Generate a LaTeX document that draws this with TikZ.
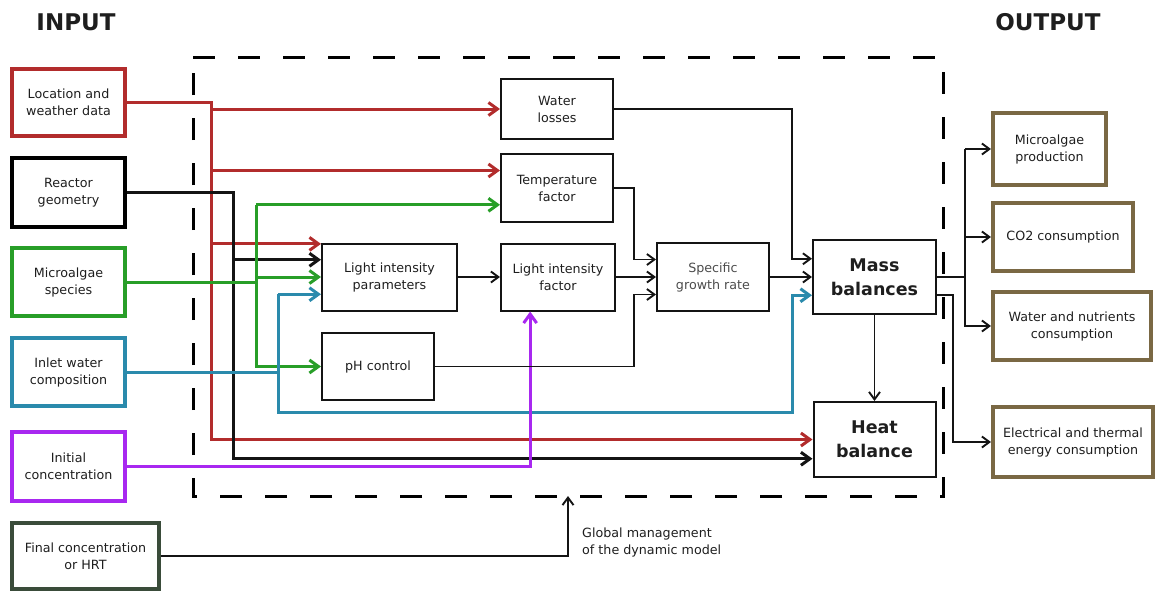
\documentclass[tikz,border=0pt]{standalone}
\usepackage{fontspec}
\setmainfont{DejaVu Sans}
\usetikzlibrary{arrows.meta,calc}
\definecolor{cred}{RGB}{178,44,44}
\definecolor{cgreen}{RGB}{40,158,40}
\definecolor{cblue}{RGB}{42,138,172}
\definecolor{cpurple}{RGB}{168,40,240}
\definecolor{cbrown}{RGB}{122,104,68}
\definecolor{cdkgreen}{RGB}{58,76,58}
\definecolor{ctext}{RGB}{30,30,30}
\definecolor{cline}{RGB}{20,20,20}

\begin{document}
\begin{tikzpicture}[x=1pt,y=-1pt,
  txt/.style={font=\fontsize{12.7}{17}\selectfont, text=ctext, align=center},
  inbox/.style={draw, line width=3.5pt, inner sep=0pt, txt},
  procbox/.style={draw=cline, line width=2pt, inner sep=0pt, txt},
  outbox/.style={draw=cbrown, line width=4pt, inner sep=0pt, txt},
  big/.style={font=\bfseries\fontsize{17.5}{24}\selectfont},
  wire/.style={line width=3pt},
  thinwire/.style={line width=1.9pt, draw=cline},
  ca/.style={-{Straight Barb[length=9pt,width=13pt]}},
  ka/.style={-{Straight Barb[length=7.5pt,width=11pt]}},
  title/.style={font=\bfseries\fontsize{23}{28}\selectfont, text=ctext},
]
\useasboundingbox (0,0) rectangle (1157,590);

% titles
\node[title] (tin) at (76,22) {INPUT};
\node[title] (tout) at (1048,22) {OUTPUT};

% model boundary
\draw[line width=3pt, dash pattern=on 22pt off 23pt]
  (193,57) -- (943,57) -- (943,496) -- (193,496) -- cycle;

% inputs
\node[inbox, draw=cred, minimum width=113pt, minimum height=67pt] (loc) at (68.5,102.5) {Location and\\weather data};
\node[inbox, draw=black, minimum width=113pt, minimum height=69pt] (reac) at (68.5,192.5) {Reactor\\geometry};
\node[inbox, draw=cgreen, minimum width=113pt, minimum height=68pt] (spec) at (68.5,282) {Microalgae\\species};
\node[inbox, draw=cblue, minimum width=113pt, minimum height=68pt] (inlet) at (68.5,372) {Inlet water\\composition};
\node[inbox, draw=cpurple, minimum width=113pt, minimum height=69pt] (init) at (68.5,466.5) {Initial\\concentration};
\node[inbox, draw=cdkgreen, minimum width=147pt, minimum height=66pt] (final) at (85.5,556) {Final concentration\\or HRT};

% process blocks
\node[procbox, minimum width=112pt, minimum height=60pt] (wl) at (557,109) {Water\\losses};
\node[procbox, minimum width=112pt, minimum height=68pt] (tf) at (557,188) {Temperature\\factor};
\node[procbox, minimum width=135pt, minimum height=67pt] (lip) at (389.5,277) {Light intensity\\parameters};
\node[procbox, minimum width=114pt, minimum height=67pt] (lif) at (558,277) {Light intensity\\factor};
\node[procbox, minimum width=112pt, minimum height=68pt, text=black!70] (sgr) at (713,277) {Specific\\growth rate};
\node[procbox, minimum width=112pt, minimum height=67pt] (ph) at (378,366.5) {pH control};
\node[procbox, big, minimum width=123pt, minimum height=74pt] (mb) at (874.5,277) {Mass\\balances};
\node[procbox, big, minimum width=122pt, minimum height=75pt] (hb) at (874.5,439.5) {Heat\\balance};

% outputs
\node[outbox, minimum width=113pt, minimum height=72pt] (mp) at (1049.5,149) {Microalgae\\production};
\node[outbox, minimum width=140pt, minimum height=68pt] (co2) at (1063,237) {CO2 consumption};
\node[outbox, minimum width=158pt, minimum height=68pt] (wn) at (1072,326) {Water and nutrients\\consumption};
\node[outbox, minimum width=160pt, minimum height=70pt] (el) at (1073,442) {Electrical and thermal\\energy consumption};

\node[txt, align=left, anchor=west, inner sep=0pt] (glab) at (582,542.5) {Global management\\of the dynamic model};

% ports on block sides
\coordinate (tf-in1) at ($(tf.north west)!.25!(tf.south west)$);
\coordinate (tf-in2) at ($(tf.north west)!.74!(tf.south west)$);
\coordinate (lip-in1) at ($(lip.north west)!.02!(lip.south west)$);
\coordinate (lip-in2) at ($(lip.north west)!.25!(lip.south west)$);
\coordinate (lip-in3) at ($(lip.north west)!.5!(lip.south west)$);
\coordinate (lip-in4) at ($(lip.north west)!.75!(lip.south west)$);
\coordinate (sgr-in1) at ($(sgr.north west)!.25!(sgr.south west)$);
\coordinate (sgr-in3) at ($(sgr.north west)!.75!(sgr.south west)$);
\coordinate (mb-in1) at ($(mb.north west)!.26!(mb.south west)$);
\coordinate (mb-in3) at ($(mb.north west)!.74!(mb.south west)$);
\coordinate (mb-out2) at ($(mb.north east)!.74!(mb.south east)$);
\coordinate (hb-in2) at ($(hb.north west)!.75!(hb.south west)$);
\coordinate (lif-in) at ($(lif.south west)!.26!(lif.south east)$);

% bus lines
\coordinate (rv) at (211,0);
\coordinate (kv) at (233,0);
\coordinate (gv) at (256,0);
\coordinate (bv) at (278,0);
\coordinate (bb) at (278,412);
\coordinate (bc) at (792,412);
\coordinate (mx) at (792,0);
\coordinate (tx) at (634,0);
\coordinate (ox) at (965,0);
\coordinate (ex) at (953,0);
\coordinate (gm) at (568,496);

% location and weather data
\draw[wire, cred, ca] (loc.east) -- (loc.east -| rv) -- (rv |- hb.west) -- (hb.west);
\draw[wire, cred, ca] (rv |- wl.west) -- (wl.west);
\draw[wire, cred, ca] (rv |- tf-in1) -- (tf-in1);
\draw[wire, cred, ca] (rv |- lip-in1) -- (lip-in1);

% reactor geometry
\draw[wire, cline, ca] (reac.east) -- (reac.east -| kv) -- (kv |- hb-in2) -- (hb-in2);
\draw[wire, cline, ca] (kv |- lip-in2) -- (lip-in2);

% microalgae species
\draw[wire, cgreen] (spec.east) -- (spec.east -| gv);
\draw[wire, cgreen, ca] (gv |- tf-in2) |- (ph.west);
\draw[wire, cgreen, ca] (gv |- tf-in2) -- (tf-in2);
\draw[wire, cgreen, ca] (gv |- lip-in3) -- (lip-in3);

% inlet water composition
\draw[wire, cblue] (inlet.east) -- (inlet.east -| bv);
\draw[wire, cblue, ca] (bv |- lip-in4) -- (lip-in4);
\draw[wire, cblue, ca] (bv |- lip-in4) -- (bb) -- (bc) |- (mb-in3);

% initial concentration
\draw[wire, cpurple, ca] (init.east) -| (lif-in);

% global management
\draw[thinwire, ka] (final.east) -| (gm);

% internal flows
\draw[thinwire, ka] (wl.east) -| (mx |- mb-in1) -- (mb-in1);
\draw[thinwire, ka] (tf.east) -| (tx |- sgr-in1) -- (sgr-in1);
\draw[thinwire, ka] (ph.east) -| (tx |- sgr-in3) -- (sgr-in3);
\draw[thinwire, ka] (lip.east) -- (lif.west);
\draw[thinwire, ka] (lif.east) -- (sgr.west);
\draw[thinwire, ka] (sgr.east) -- (mb.west);
\draw[thinwire, ka] (mb.south) -- (hb.north);

% outputs
\draw[thinwire] (mb.east) -- (ox |- mb.east);
\draw[thinwire, ka] (ox |- mp.west) -- (mp.west);
\draw[thinwire, ka] (ox |- co2.west) -- (co2.west);
\draw[thinwire, ka] (ox |- mp.west) -- (ox |- wn.west) -- (wn.west);
\draw[thinwire, ka] (mb-out2) -| (ex |- el.west) -- (el.west);
\end{tikzpicture}
\end{document}
